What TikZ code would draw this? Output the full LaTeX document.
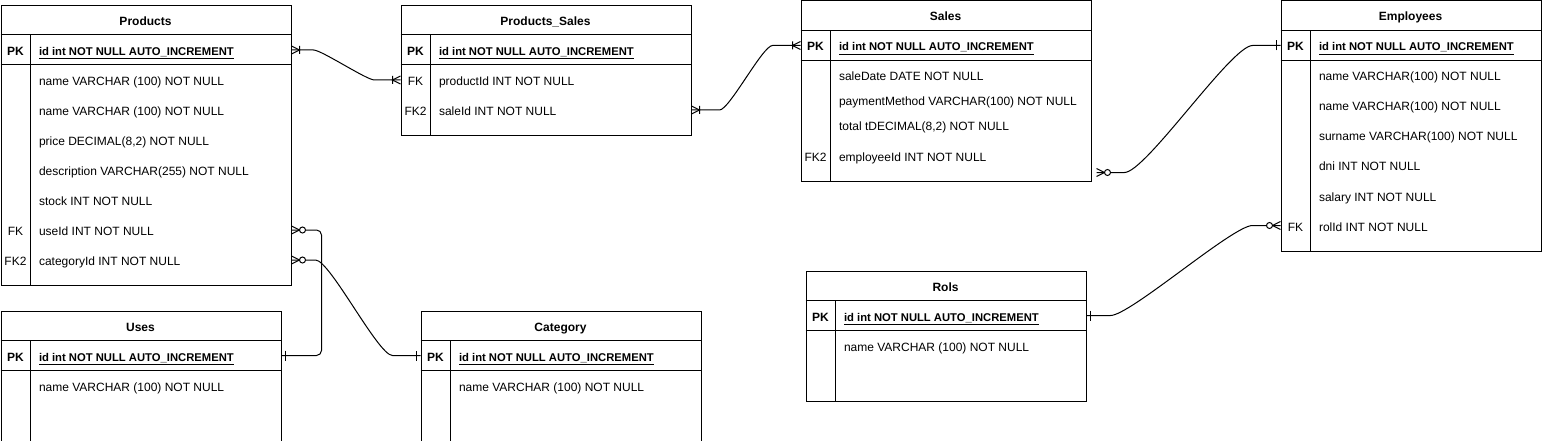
\documentclass[tikz,border=0pt]{standalone}
\usepackage{fontspec}
\setmainfont{Liberation Sans}
\usetikzlibrary{calc}

\tikzset{
  ermany/.pic={\draw (0,-4) -- (8,0) -- (0,4) (8,-4) -- (8,4);},
  erzero/.pic={\draw (0,-4) -- (8,0) -- (0,4); \draw[fill=white] (11,0) circle[radius=3];},
  erone/.pic={\draw (4,-5) -- (4,5);}
}

\begin{document}
\begin{tikzpicture}[x=1pt, y=-1pt, line width=1pt,
    font=\fontsize{12}{14}\selectfont,
    tbl/.style={draw, anchor=north west, inner sep=0pt},
    hdr/.style={font=\fontsize{12}{14}\selectfont\bfseries, inner sep=0pt, text height=12pt, text depth=1pt},
    field/.style={anchor=west, inner sep=0pt, text height=12pt, text depth=1pt},
    kcol/.style={inner sep=0pt, text height=12pt, text depth=1pt},
    pkey/.style={field, font=\fontsize{11.25}{13}\selectfont\bfseries},
    link/.style={draw, line width=1pt},
    rel/.style={out=0, in=180, looseness=0.3}]

  \useasboundingbox (0,0) rectangle (1542,441);

  % Products
  \begin{scope}[shift={(0.5,5)}]
    \node[tbl, minimum width=290pt, minimum height=280pt] (Prod) at (0,0) {};
    \draw (0,30) -- (290,30) (0,60) -- (290,60) (30,30) -- (30,280);
    \node[hdr] at (145,15) {Products};
    \node[kcol, font=\fontsize{12}{14}\selectfont\bfseries] at (15,45) {PK};
    \node[pkey] (Prod-id) at (38,45) {\underline{id int NOT NULL AUTO\_INCREMENT}};
    \foreach \y/\t [count=\i] in {75/{name VARCHAR (100) NOT NULL},
        105/{name VARCHAR (100) NOT NULL}, 135/{price DECIMAL(8,2) NOT NULL},
        165/{description VARCHAR(255) NOT NULL}, 195/{stock INT NOT NULL}}
      \node[field] (Prod-\i) at (38,\y) {\t};
    \node[kcol] at (15,225) {FK};
    \node[field] (Prod-use) at (38,225) {useId INT NOT NULL};
    \node[kcol] at (15,255) {FK2};
    \node[field] (Prod-cat) at (38,255) {categoryId INT NOT NULL};
  \end{scope}

  % Products_Sales
  \begin{scope}[shift={(400.5,5)}]
    \node[tbl, minimum width=290pt, minimum height=130pt] (PS) at (0,0) {};
    \draw (0,30) -- (290,30) (0,60) -- (290,60) (30,30) -- (30,130);
    \node[hdr] at (145,15) {Products\_Sales};
    \node[kcol, font=\fontsize{12}{14}\selectfont\bfseries] at (15,45) {PK};
    \node[pkey] (PS-id) at (38,45) {\underline{id int NOT NULL AUTO\_INCREMENT}};
    \node[kcol] at (15,75) {FK};
    \node[field] (PS-prod) at (38,75) {productId INT NOT NULL};
    \node[kcol] at (15,105) {FK2};
    \node[field] (PS-sale) at (38,105) {saleId INT NOT NULL};
  \end{scope}

  % Sales
  \begin{scope}[shift={(800.5,0.5)}]
    \node[tbl, minimum width=290pt, minimum height=180pt] (Sal) at (0,0) {};
    \draw (0,30) -- (290,30) (0,60) -- (290,60) (30,30) -- (30,180);
    \node[hdr] at (145,15) {Sales};
    \node[kcol, font=\fontsize{12}{14}\selectfont\bfseries] at (15,45) {PK};
    \node[pkey] (Sal-id) at (38,45) {\underline{id int NOT NULL AUTO\_INCREMENT}};
    \foreach \y/\t [count=\i] in {75/{saleDate DATE NOT NULL},
        100/{paymentMethod VARCHAR(100) NOT NULL}, 125/{total tDECIMAL(8,2) NOT NULL}}
      \node[field] (Sal-\i) at (38,\y) {\t};
    \node[kcol] at (15,155) {FK2};
    \node[field] (Sal-emp) at (38,155) {employeeId INT NOT NULL};
  \end{scope}

  % Employees
  \begin{scope}[shift={(1280.5,0.5)}]
    \node[tbl, minimum width=260pt, minimum height=250pt] (Emp) at (0,0) {};
    \draw (0,30) -- (260,30) (0,60) -- (260,60) (30,30) -- (30,250);
    \node[hdr] at (130,15) {Employees};
    \node[kcol, font=\fontsize{12}{14}\selectfont\bfseries] at (15,45) {PK};
    \node[pkey] (Emp-id) at (38,45) {\underline{id int NOT NULL AUTO\_INCREMENT}};
    \foreach \y/\t [count=\i] in {75/{name VARCHAR(100) NOT NULL},
        105/{name VARCHAR(100) NOT NULL}, 135/{surname VARCHAR(100) NOT NULL},
        165/{dni INT NOT NULL}, 195/{salary INT NOT NULL}}
      \node[field] (Emp-\i) at (38,\y) {\t};
    \node[kcol] at (15,225) {FK};
    \node[field] (Emp-rol) at (38,225) {rolId INT NOT NULL};
  \end{scope}

  % Rols
  \begin{scope}[shift={(805.5,270.5)}]
    \node[tbl, minimum width=280pt, minimum height=130pt] (Rol) at (0,0) {};
    \draw (0,30) -- (280,30) (0,60) -- (280,60) (30,30) -- (30,130);
    \node[hdr] at (140,15) {Rols};
    \node[kcol, font=\fontsize{12}{14}\selectfont\bfseries] at (15,45) {PK};
    \node[pkey] (Rol-id) at (38,45) {\underline{id int NOT NULL AUTO\_INCREMENT}};
    \node[field] (Rol-name) at (38,75) {name VARCHAR (100) NOT NULL};
  \end{scope}

  % Uses
  \begin{scope}[shift={(0.5,310.5)}]
    \node[tbl, minimum width=280pt, minimum height=130pt] (Use) at (0,0) {};
    \draw (0,30) -- (280,30) (0,60) -- (280,60) (30,30) -- (30,130);
    \node[hdr] at (140,15) {Uses};
    \node[kcol, font=\fontsize{12}{14}\selectfont\bfseries] at (15,45) {PK};
    \node[pkey] (Use-id) at (38,45) {\underline{id int NOT NULL AUTO\_INCREMENT}};
    \node[field] (Use-name) at (38,75) {name VARCHAR (100) NOT NULL};
  \end{scope}

  % Category
  \begin{scope}[shift={(420.5,310.5)}]
    \node[tbl, minimum width=280pt, minimum height=130pt] (Cat) at (0,0) {};
    \draw (0,30) -- (280,30) (0,60) -- (280,60) (30,30) -- (30,130);
    \node[hdr] at (140,15) {Category};
    \node[kcol, font=\fontsize{12}{14}\selectfont\bfseries] at (15,45) {PK};
    \node[pkey] (Cat-id) at (38,45) {\underline{id int NOT NULL AUTO\_INCREMENT}};
    \node[field] (Cat-name) at (38,75) {name VARCHAR (100) NOT NULL};
  \end{scope}

  % relations
  \coordinate (Sal-out) at ($(Sal.south east)+(5,-9)$);
  \draw[link] (Prod.east |- Prod-id) -- ++(22,0) to[rel]
    ($(PS.west |- PS-prod)+(-26,0)$) -- (PS.west |- PS-prod);
  \draw[link] (PS.east |- PS-sale) -- ++(28,0) to[rel]
    ($(Sal.west |- Sal-id)+(-28,0)$) -- (Sal.west |- Sal-id);
  \draw[link] (Sal-out) -- ++(28,0) to[rel]
    ($(Emp.west |- Emp-id)+(-28,0)$) -- (Emp.west |- Emp-id);
  \draw[link, rounded corners=5pt] (Prod.east |- Prod-use) -- ++(30,0) |- (Use.east |- Use-id);
  \draw[link] (Prod.east |- Prod-cat) -- ++(24,0) to[rel]
    ($(Cat.west |- Cat-id)+(-28,0)$) -- (Cat.west |- Cat-id);
  \draw[link] (Rol.east |- Rol-id) -- ++(24,0) to[rel]
    ($(Emp.west |- Emp-rol)+(-28,0)$) -- (Emp.west |- Emp-rol);

  % ends
  \pic at (Prod.east |- Prod-id) {ermany};
  \pic[rotate=180] at (PS.west |- PS-prod) {ermany};
  \pic at (PS.east |- PS-sale) {ermany};
  \pic[rotate=180] at (Sal.west |- Sal-id) {ermany};
  \pic at (Sal-out) {erzero};
  \pic[rotate=180] at (Emp.west |- Emp-id) {erone};
  \pic at (Prod.east |- Prod-use) {erzero};
  \pic at (Use.east |- Use-id) {erone};
  \pic at (Prod.east |- Prod-cat) {erzero};
  \pic[rotate=180] at (Cat.west |- Cat-id) {erone};
  \pic at (Rol.east |- Rol-id) {erone};
  \pic[rotate=180] at (Emp.west |- Emp-rol) {erzero};
\end{tikzpicture}
\end{document}
